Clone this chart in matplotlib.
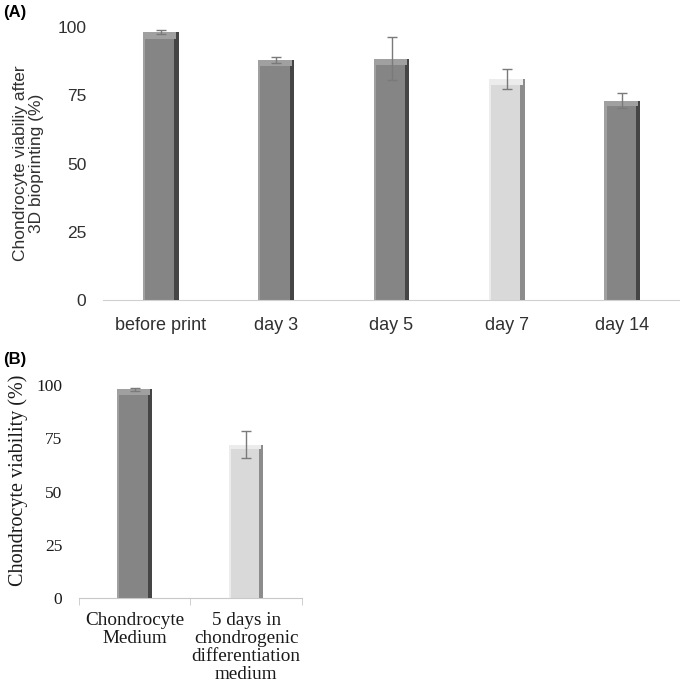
import numpy as np
import matplotlib.pyplot as plt

# panel A data
cats_a = ["before print", "day 3", "day 5", "day 7", "day 14"]
vals_a = [98.2, 88.0, 88.5, 81.0, 73.0]
errs_a = [0.6, 1.2, 8.0, 3.5, 2.8]
light_a = [False, False, False, True, False]

# panel B data
cats_b = ["Chondrocyte\nMedium", "5 days in\nchondrogenic\ndifferentiation\nmedium"]
vals_b = [98.0, 72.0]
errs_b = [0.8, 6.3]
light_b = [False, True]

yticks = [0, 25, 50, 75, 100]


# bar with a fake bevel: main body, dark right strip, light left strip, top band
def bevel_bars(ax, x, vals, light, width):
    x = np.asarray(x, dtype=float)
    vals = np.asarray(vals)
    body = ['#d9d9d9' if l else '#858585' for l in light]
    dark = ['#8c8c8c' if l else '#454545' for l in light]
    lite = ['#ececec' if l else '#a0a0a0' for l in light]
    ax.bar(x, vals, width, color=body, zorder=2)
    s = width * 0.12
    ax.bar(x + width / 2 - s / 2, vals, s, color=dark, zorder=3)
    ax.bar(x - width / 2 + s / 4, vals, s / 2, color=lite, zorder=3)
    ax.bar(x, vals * 0.025, width - s, bottom=vals * 0.975, color=lite, zorder=3)


fig = plt.figure(figsize=(6.8, 6.89), dpi=100)

# ---- panel A ----
ax1 = fig.add_axes([0.1515, 0.5646, 0.8485, 0.396])
xa = np.arange(len(cats_a))
bevel_bars(ax1, xa, vals_a, light_a, 0.31)
ax1.errorbar(xa, vals_a, yerr=errs_a, fmt='none', ecolor='#7a7a7a',
             elinewidth=1, capsize=3.5, capthick=1, zorder=4)
ax1.set_xlim(-0.5, 4.5)
ax1.set_ylim(0, 100)
ax1.set_yticks(yticks)
ax1.set_xticks(xa)
ax1.set_xticklabels(cats_a, fontsize=13, family='Liberation Sans', color='#303030')
ax1.set_yticklabels([str(t) for t in yticks], fontsize=12.5, family='Liberation Sans',
                    color='#303030')
ax1.tick_params(axis='y', length=0, pad=12)
ax1.tick_params(axis='x', length=0, pad=12)
for s in ['top', 'right', 'left']:
    ax1.spines[s].set_visible(False)
ax1.spines['bottom'].set_color('#d0d0d0')
ax1.set_ylabel("Chondrocyte viabiliy after\n3D bioprinting (%)", fontsize=12.5,
               family='Liberation Sans', color='#303030', linespacing=1.1)
ax1.yaxis.set_label_coords(-0.102, 0.5)

# ---- panel B ----
ax2 = fig.add_axes([0.116, 0.132, 0.328, 0.309])
xb = np.arange(len(cats_b))
bevel_bars(ax2, xb, vals_b, light_b, 0.31)
ax2.errorbar(xb, vals_b, yerr=errs_b, fmt='none', ecolor='#7a7a7a',
             elinewidth=1, capsize=3.5, capthick=1, zorder=4)
ax2.set_xlim(-0.5, 1.5)
ax2.set_ylim(0, 100)
ax2.set_yticks(yticks)
ax2.set_yticklabels([str(t) for t in yticks], fontsize=12.5, family='Liberation Serif',
                    color='#1a1a1a')
ax2.set_xticks(xb)
ax2.set_xticklabels(cats_b, fontsize=13.8, family='Liberation Serif', linespacing=1.08,
                    color='#1a1a1a')
ax2.tick_params(axis='y', length=0, pad=12)
ax2.tick_params(axis='x', length=0, pad=10)
ax2.set_xticks([-0.5, 0.5, 1.5], minor=True)
ax2.tick_params(axis='x', which='minor', length=5, color='#c8c8c8')
for s in ['top', 'right', 'left']:
    ax2.spines[s].set_visible(False)
ax2.spines['bottom'].set_color('#c8c8c8')
ax2.set_ylabel("Chondrocyte viability (%)", fontsize=14.5, family='Liberation Serif',
               color='#1a1a1a')
ax2.yaxis.set_label_coords(-0.229, 0.554)

fig.text(0.005, 0.993, "(A)", fontsize=12, fontweight='bold', family='Liberation Sans',
         va='top')
fig.text(0.005, 0.489, "(B)", fontsize=12, fontweight='bold', family='Liberation Sans',
         va='top')

fig.savefig("out.png", dpi=100)
